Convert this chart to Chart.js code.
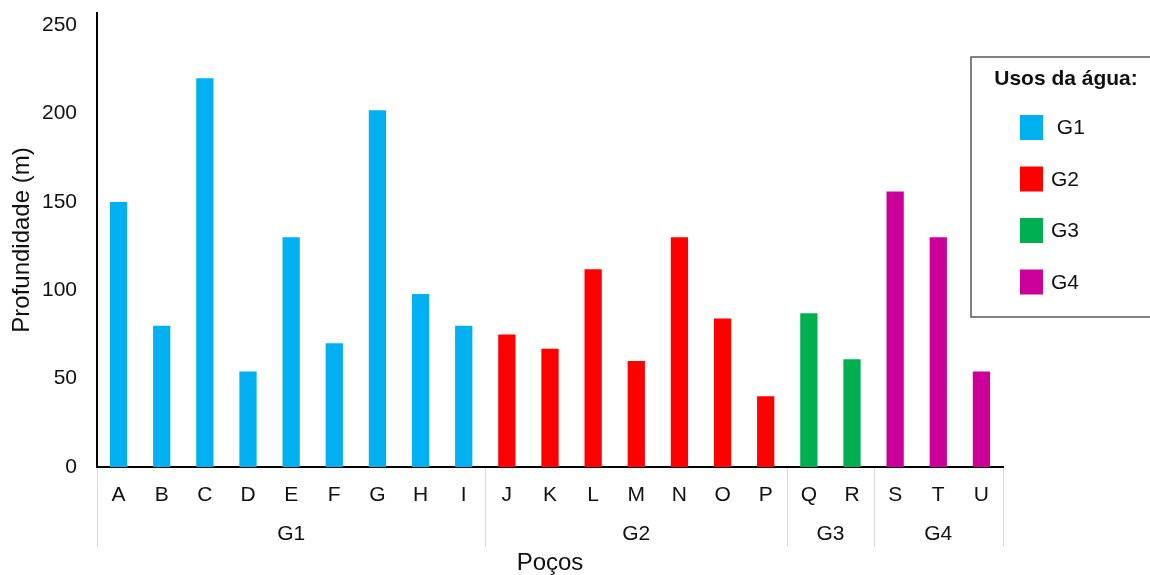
<!DOCTYPE html>
<html>
<head>
<meta charset="utf-8">
<script src="https://cdn.jsdelivr.net/npm/chart.js@4/dist/chart.umd.min.js"></script>
<style>
  html, body { margin: 0; padding: 0; background: #ffffff; }
  #wrap { width: 1150px; height: 575px; position: relative; }
</style>
</head>
<body>
<div id="wrap"><canvas id="chart" width="1150" height="575"></canvas></div>
<script>
// Wells (poços) and their depth in metres
const wells = ['A','B','C','D','E','F','G','H','I','J','K','L','M','N','O','P','Q','R','S','T','U'];
const depths = [150, 80, 220, 54, 130, 70, 202, 98, 80, 75, 67, 112, 60, 130, 84, 40, 87, 61, 156, 130, 54];

// Water-use group of each well, in order
const groupNames = ['G1', 'G2', 'G3', 'G4'];
const groupCounts = [9, 7, 2, 3];
const legendLabels = [' G1', 'G2', 'G3', 'G4'];
const yTicks = [0, 50, 100, 150, 200, 250];

const palette = { G1: '#00B0F0', G2: '#FF0000', G3: '#00B050', G4: '#CC0099' };
const FONT = '"Liberation Sans", Arial, sans-serif';

// map each well to its group
const wellGroup = [];
groupNames.forEach((g, i) => { for (let k = 0; k < groupCounts[i]; k++) wellGroup.push(g); });
const barColors = wellGroup.map(g => palette[g]);

// second row of the category axis: group names and separators
const groupAxis = {
  id: 'groupAxis',
  afterDraw(chart) {
    const { ctx } = chart;
    const x = chart.scales.x;
    const step = x.width / wells.length;
    const top = x.top;
    ctx.save();
    ctx.strokeStyle = '#d9d9d9';
    ctx.lineWidth = 1;
    let idx = 0;
    const edges = [x.getPixelForValue(0) - step / 2];
    groupNames.forEach((g, i) => {
      const first = idx;
      const last = idx + groupCounts[i] - 1;
      idx += groupCounts[i];
      const l = x.getPixelForValue(first) - step / 2;
      const r = x.getPixelForValue(last) + step / 2;
      edges.push(r);
      ctx.fillStyle = '#111';
      ctx.font = '21px ' + FONT;
      ctx.textAlign = 'center';
      ctx.textBaseline = 'alphabetic';
      ctx.fillText(g, (l + r) / 2, 540);
    });
    edges.forEach(e => {
      const px = Math.round(e) + 0.5;
      ctx.beginPath();
      ctx.moveTo(px, top + 1);
      ctx.lineTo(px, 547);
      ctx.stroke();
    });
    ctx.restore();
  }
};

// boxed legend on the right
const boxLegend = {
  id: 'boxLegend',
  afterDraw(chart) {
    const { ctx } = chart;
    ctx.save();
    ctx.strokeStyle = '#595959';
    ctx.lineWidth = 1.5;
    ctx.strokeRect(971, 57, 200, 260);
    ctx.fillStyle = '#111';
    ctx.font = 'bold 21px ' + FONT;
    ctx.textAlign = 'center';
    ctx.textBaseline = 'alphabetic';
    ctx.fillText('Usos da água:', 1066, 85);
    ctx.font = '21px ' + FONT;
    ctx.textAlign = 'left';
    ctx.textBaseline = 'middle';
    groupNames.forEach((g, i) => {
      const cy = 127.5 + i * 51.5;
      ctx.fillStyle = palette[g];
      ctx.fillRect(1020, cy - 12.5, 23, 25);
      ctx.fillStyle = '#111';
      ctx.fillText(legendLabels[i], 1051, cy + 1);
    });
    ctx.restore();
  }
};

new Chart(document.getElementById('chart'), {
  type: 'bar',
  data: {
    labels: wells,
    datasets: [{
      label: 'Profundidade',
      data: depths,
      backgroundColor: barColors,
      borderWidth: 0,
      barPercentage: 0.4,
      categoryPercentage: 1.0
    }]
  },
  options: {
    responsive: false,
    animation: false,
    layout: { padding: { left: 0, right: 147, top: 13, bottom: 0 } },
    plugins: {
      legend: { display: false },
      tooltip: { enabled: false }
    },
    scales: {
      x: {
        type: 'category',
        offset: true,
        grid: { display: false, drawTicks: false },
        border: { display: true, color: '#000', width: 2 },
        ticks: { color: '#111', font: { family: FONT, size: 21 }, padding: 16, maxRotation: 0, autoSkip: false },
        title: {
          display: true, text: 'Poços', color: '#111',
          font: { family: FONT, size: 24, lineHeight: 1 },
          padding: { top: 0, bottom: 0 }
        },
        afterFit(scale) { scale.height = 108; scale.paddingLeft = 0; scale.paddingRight = 0; }
      },
      y: {
        min: 0,
        max: 257,
        grid: { display: false, drawTicks: false },
        border: { display: true, color: '#000', width: 2 },
        ticks: { stepSize: 50, color: '#111', font: { family: FONT, size: 21 }, padding: 20 },
        afterBuildTicks(scale) { scale.ticks = yTicks.map(v => ({ value: v })); },
        title: {
          display: true, text: 'Profundidade (m)', color: '#111',
          font: { family: FONT, size: 24, lineHeight: 1 },
          padding: { top: 10, bottom: 0 }
        },
        afterFit(scale) { scale.width = 97; scale.paddingTop = 0; scale.paddingBottom = 0; }
      }
    }
  },
  plugins: [groupAxis, boxLegend]
});
</script>
</body>
</html>
